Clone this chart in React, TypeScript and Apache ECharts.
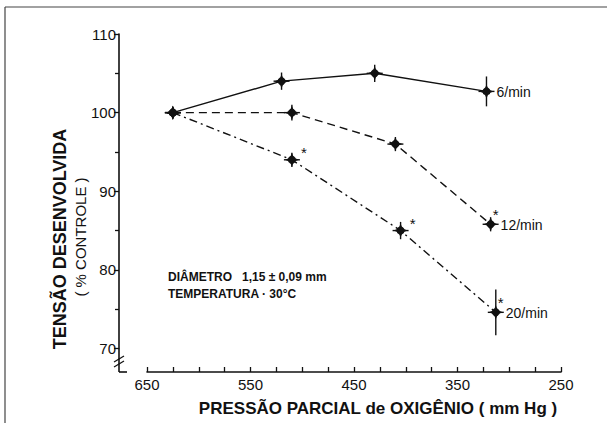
import React, { useEffect, useRef } from "react";
import * as echarts from "echarts";

// Pressão parcial de O2 (mm Hg) and tensão (% controle) per stimulation rate
const pressure6 = [625, 520, 430, 322];
const tension6 = [100, 104, 105, 102.7];
const err6 = [0.6, 1.1, 1.1, 1.9];
const star6 = [0, 0, 0, 0];

const pressure12 = [625, 510, 410, 318];
const tension12 = [100, 100, 96, 85.8];
const err12 = [0.6, 1.0, 0.9, 0.9];
const star12 = [0, 0, 0, 1];

const pressure20 = [625, 510, 405, 313];
const tension20 = [100, 94, 85, 74.6];
const err20 = [0.6, 0.9, 1.1, 2.9];
const star20 = [0, 1, 1, 1];

const seriesNames = ["6/min", "12/min", "20/min"];
const xTicks = [650, 550, 450, 350, 250];
const yTicks = [70, 80, 90, 100, 110];

const FONT = "Liberation Sans, Arial, sans-serif";
const INK = "#111";

function rows(p: number[], t: number[], e: number[], s: number[]) {
  return p.map((v, i) => [v, t[i], e[i], s[i]]);
}

function makeRender(label: string) {
  return (params: any, api: any) => {
    const x = api.value(0);
    const y = api.value(1);
    const e = api.value(2);
    const s = api.value(3);
    const c = api.coord([x, y]);
    const top = api.coord([x, y + e]);
    const bot = api.coord([x, y - e]);
    const cx = c[0];
    const cy = c[1];
    const children: any[] = [
      {
        type: "line",
        shape: { x1: cx, y1: top[1], x2: cx, y2: bot[1] },
        style: { stroke: INK, lineWidth: 1.4 },
      },
      {
        type: "line",
        shape: { x1: cx - 8, y1: cy, x2: cx + 8, y2: cy },
        style: { stroke: INK, lineWidth: 1.4 },
      },
      {
        type: "polygon",
        shape: {
          points: [
            [cx + 7, cy], [cx + 2, cy + 2], [cx, cy + 7], [cx - 2, cy + 2],
            [cx - 7, cy], [cx - 2, cy - 2], [cx, cy - 7], [cx + 2, cy - 2],
          ],
        },
        style: { fill: INK },
      },
      { type: "circle", shape: { cx, cy, r: 4 }, style: { fill: INK } },
    ];
    const last = params.dataIndex === params.dataInsideLength - 1;
    if (s) {
      children.push({
        type: "text",
        x: last ? cx + 5 : cx + 12,
        y: last ? cy - 10 : cy - 7,
        style: {
          text: "*", fill: INK, font: `15px ${FONT}`,
          align: "center", verticalAlign: "middle",
        },
      });
    }
    if (last) {
      children.push({
        type: "text",
        x: cx + 10,
        y: cy + 1,
        style: {
          text: label, fill: INK, font: `14px ${FONT}`,
          align: "left", verticalAlign: "middle",
        },
      });
    }
    return { type: "group", children };
  };
}

export default function App() {
  const ref = useRef<HTMLDivElement>(null);
  useEffect(() => {
    if (!ref.current) return;
    const chart = echarts.init(ref.current, undefined, { renderer: "svg" });
    const lineBase = { type: "line" as const, symbol: "none", silent: true, z: 2 };
    chart.setOption({
      animation: false,
      backgroundColor: "#fff",
      grid: { left: 147, right: 46, top: 34, bottom: 74.5 },
      xAxis: {
        type: "value",
        inverse: true,
        min: 250,
        max: 650,
        interval: 25,
        offset: 23.5,
        axisLine: { lineStyle: { color: INK, width: 1.6 } },
        axisTick: { inside: true, length: 5, lineStyle: { color: INK, width: 1.3 } },
        axisLabel: {
          color: INK, fontSize: 15, fontFamily: FONT, margin: 5,
          formatter: (v: number) => (xTicks.includes(v) ? String(v) : ""),
        },
        splitLine: { show: false },
      },
      yAxis: {
        type: "value",
        min: 70,
        max: 110,
        interval: 10,
        offset: 28,
        axisLine: { lineStyle: { color: INK, width: 1.6 } },
        axisTick: { length: 5, lineStyle: { color: INK, width: 1.3 } },
        minorTick: { show: true, splitNumber: 2, length: 4, lineStyle: { color: INK, width: 1.3 } },
        axisLabel: {
          color: INK, fontSize: 15, fontFamily: FONT, margin: 3,
          formatter: (v: number) => (yTicks.includes(v) ? String(v) : ""),
        },
        splitLine: { show: false },
      },
      series: [
        {
          ...lineBase,
          name: seriesNames[0],
          data: pressure6.map((p, i) => [p, tension6[i]]),
          lineStyle: { color: INK, width: 1.4, type: "solid" },
        },
        {
          ...lineBase,
          name: seriesNames[1],
          data: pressure12.map((p, i) => [p, tension12[i]]),
          lineStyle: { color: INK, width: 1.4, type: [8, 5] },
        },
        {
          ...lineBase,
          name: seriesNames[2],
          data: pressure20.map((p, i) => [p, tension20[i]]),
          lineStyle: { color: INK, width: 1.4, type: [8, 4, 2, 4] },
        },
        {
          type: "custom", name: seriesNames[0] + " marks", z: 3,
          renderItem: makeRender(seriesNames[0]),
          data: rows(pressure6, tension6, err6, star6),
          encode: { x: 0, y: 1 },
        },
        {
          type: "custom", name: seriesNames[1] + " marks", z: 3,
          renderItem: makeRender(seriesNames[1]),
          data: rows(pressure12, tension12, err12, star12),
          encode: { x: 0, y: 1 },
        },
        {
          type: "custom", name: seriesNames[2] + " marks", z: 3,
          renderItem: makeRender(seriesNames[2]),
          data: rows(pressure20, tension20, err20, star20),
          encode: { x: 0, y: 1 },
        },
      ],
      graphic: [
        // scan frame
        { type: "line", shape: { x1: 5, y1: 7, x2: 607, y2: 7 }, style: { stroke: "#444", lineWidth: 1.2 } },
        { type: "line", shape: { x1: 5, y1: 7, x2: 5, y2: 423 }, style: { stroke: "#444", lineWidth: 1.2 } },
        // y-axis extension with break
        { type: "line", shape: { x1: 119, y1: 348.5, x2: 119, y2: 372 }, style: { stroke: INK, lineWidth: 1.6 } },
        { type: "line", shape: { x1: 119, y1: 372, x2: 127, y2: 372 }, style: { stroke: INK, lineWidth: 1.6 } },
        { type: "line", shape: { x1: 114, y1: 362, x2: 124, y2: 356 }, style: { stroke: INK, lineWidth: 1.3 } },
        { type: "line", shape: { x1: 114, y1: 367, x2: 124, y2: 361 }, style: { stroke: INK, lineWidth: 1.3 } },
        // axis titles
        {
          type: "text", x: 60, y: 239, rotation: Math.PI / 2,
          style: {
            text: "TENSÃO DESENVOLVIDA", fill: INK, font: `bold 18px ${FONT}`,
            align: "center", verticalAlign: "middle",
          },
        },
        {
          type: "text", x: 80, y: 237, rotation: Math.PI / 2,
          style: {
            text: "( % CONTROLE )", fill: INK, font: `15px ${FONT}`,
            align: "center", verticalAlign: "middle",
          },
        },
        {
          type: "text", x: 378, y: 408,
          style: {
            text: "PRESSÃO PARCIAL de OXIGÊNIO ( mm Hg )", fill: INK, font: `bold 17px ${FONT}`,
            align: "center", verticalAlign: "middle",
          },
        },
        // annotations
        {
          type: "text", x: 168, y: 277,
          style: {
            text: "DIÂMETRO   1,15 ± 0,09 mm", fill: INK, font: `bold 12px ${FONT}`,
            align: "left", verticalAlign: "middle",
          },
        },
        {
          type: "text", x: 168, y: 294,
          style: {
            text: "TEMPERATURA · 30°C", fill: INK, font: `bold 12px ${FONT}`,
            align: "left", verticalAlign: "middle",
          },
        },
      ],
    });
    return () => chart.dispose();
  }, []);
  return <div ref={ref} style={{ width: 607, height: 423, position: "fixed", left: 0, top: 0 }} />;
}
